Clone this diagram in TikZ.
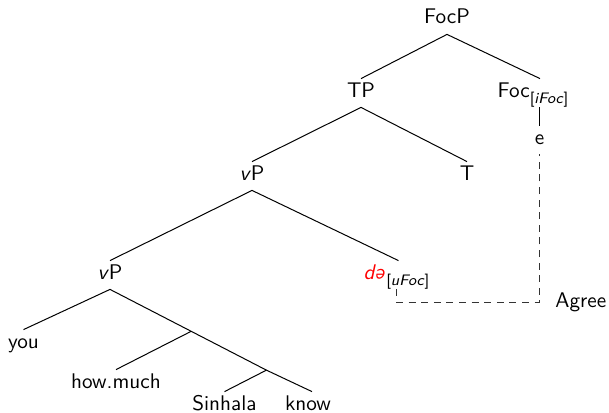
\documentclass[tikz,border=0pt]{standalone}
\usepackage{graphicx}
\usetikzlibrary{calc}
\renewcommand{\familydefault}{\sfdefault}
\newcommand{\schwa}{\rotatebox[origin=c]{180}{\textit{e}}}
\newcommand{\featsub}[1]{\raisebox{-0.32em}{\fontsize{7.6}{9}\selectfont[\textit{#1}]}}
\begin{document}
\begin{tikzpicture}[x=0.5pt,y=-0.5pt,
  lbl/.style={font=\fontsize{10.6}{12.7}\selectfont\sffamily, text height=7.4pt, text depth=3.4pt,
              inner xsep=0pt, inner ysep=1.6pt, anchor=base},
  branch/.style={line width=0.5pt},
  agreeline/.style={line width=0.5pt, black!80, dash pattern=on 3.5pt off 2.8pt}]
\useasboundingbox (0,0) rectangle (609,412);

% tree labels
\node[lbl] (FocP) at (447,24) {FocP};
\node[lbl] (TP)   at (361,97) {TP};
\node[lbl] (Foc)  at (533,97) {Foc\featsub{iFoc}};
\node[lbl] (e)    at (539.5,144) {e};
\node[lbl] (T)    at (467,180) {T};
\node[lbl] (v1)   at (252,180) {\textit{v}P};
\node[lbl] (v2)   at (110,279) {\textit{v}P};
\node[lbl] (de)   at (396.5,279) {\textcolor{red}{\textit{d}\schwa}\featsub{uFoc}};
\node[lbl] (you)  at (23.5,348) {you};
\node[lbl] (how)  at (116,388) {how.much};
\node[lbl] (sin)  at (224.5,410) {Sinhala};
\node[lbl] (know) at (308,410) {know};
\node[font=\fontsize{10.6}{12.7}\selectfont\sffamily, inner sep=0pt, anchor=base west] (agree) at (555,307) {Agree};

% branching points on the right spine of the lower vP
\coordinate (X) at ($(v2.south)!0.41!(know.north)$);
\coordinate (Y) at ($(v2.south)!0.79!(know.north)$);
\coordinate (corner) at (539.5,302.5);

% branches
\draw[branch] (FocP.south) -- (TP.north);
\draw[branch] (FocP.south) -- ([xshift=3.5pt]Foc.north);
\draw[branch] ([xshift=3.25pt]Foc.south) -- (e.north);
\draw[branch] (TP.south) -- (v1.north);
\draw[branch] (TP.south) -- (T.north);
\draw[branch] (v1.south) -- (v2.north);
\draw[branch] (v1.south) -- ([xshift=1pt]de.north);
\draw[branch] (v2.south) -- (you.north);
\draw[branch] (v2.south) -- (X) -- (Y) -- ([xshift=2pt]know.north);
\draw[branch] (X) -- (how.north);
\draw[branch] (Y) -- (sin.north);

% Agree relation
\draw[agreeline] (de.south) |- (corner) -- (e.south);
\end{tikzpicture}
\end{document}
